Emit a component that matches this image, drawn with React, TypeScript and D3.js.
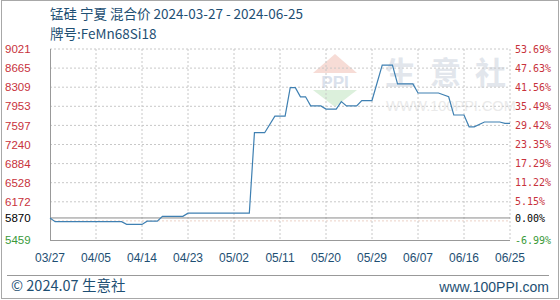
import React from "react";
import * as d3 from "d3";

const titleText = "锰硅 宁夏 混合价 2024-03-27 - 2024-06-25";
const subtitleText = "牌号:FeMn68Si18";
const footerLeft = "© 2024.07 生意社";
const footerRight = "www.100PPI.com";
const watermarkChars = ["生", "意", "社"];

const dates = [
  "2024-03-27", "2024-03-28", "2024-04-10", "2024-04-11", "2024-04-14", "2024-04-15",
  "2024-04-17", "2024-04-18", "2024-04-22", "2024-04-23", "2024-05-05", "2024-05-06",
  "2024-05-08", "2024-05-10", "2024-05-12", "2024-05-13", "2024-05-14", "2024-05-15",
  "2024-05-16", "2024-05-17", "2024-05-19", "2024-05-20", "2024-05-22", "2024-05-23",
  "2024-05-24", "2024-05-26", "2024-05-27", "2024-05-29", "2024-05-31", "2024-06-02",
  "2024-06-03", "2024-06-06", "2024-06-07", "2024-06-11", "2024-06-13", "2024-06-14",
  "2024-06-16", "2024-06-17", "2024-06-18", "2024-06-20", "2024-06-23", "2024-06-24",
  "2024-06-25",
];
const prices = [
  5870, 5800, 5800, 5750, 5750, 5810,
  5810, 5900, 5900, 5960, 5960, 7460,
  7460, 7770, 7770, 8300, 8300, 8130,
  8130, 7960, 7960, 7900, 7900, 8040,
  7960, 7960, 8060, 8060, 8720, 8720,
  8370, 8370, 8200, 8200, 8130, 7790,
  7790, 7570, 7570, 7660, 7660, 7635,
  7635,
];

const xTickDates = [
  "2024-03-27", "2024-04-05", "2024-04-14", "2024-04-23", "2024-05-02", "2024-05-11",
  "2024-05-20", "2024-05-29", "2024-06-07", "2024-06-16", "2024-06-25",
];
const xTickLabels = ["03/27", "04/05", "04/14", "04/23", "05/02", "05/11", "05/20", "05/29", "06/07", "06/16", "06/25"];

const baseValue = 5870;
const yMin = 5459;
const yMax = 9021;
const yGridValues = [5815.2, 6171.4, 6527.6, 6883.8, 7240, 7596.2, 7952.4, 8308.6, 8664.8, 9021];
const yTickValues = [9021, 8664.8, 8308.6, 7952.4, 7596.2, 7240, 6883.8, 6527.6, 6171.4, 5870, 5459];
const yTickLabels = ["9021", "8665", "8309", "7953", "7597", "7240", "6884", "6528", "6172", "5870", "5459"];
const pctLabels = ["53.69%", "47.63%", "41.56%", "35.49%", "29.42%", "23.35%", "17.29%", "11.22%", "5.15%", "0.00%", "-6.99%"];

const W = 560;
const H = 300;
const M = { left: 50, right: 510, top: 49, bottom: 240 };

const RED = "#c8323c";
const GREEN = "#3a9a3a";
const DARK = "#1e4f73";
const GRID = "#c8c8c8";

export default function App() {
  const parse = d3.utcParse("%Y-%m-%d");
  const data = dates.map((d, i) => ({ date: parse(d) as Date, v: prices[i] }));
  const x = d3
    .scaleUtc()
    .domain([parse(xTickDates[0]) as Date, parse(xTickDates[xTickDates.length - 1]) as Date])
    .range([M.left, M.right]);
  const y = d3.scaleLinear().domain([yMin, yMax]).range([M.bottom, M.top]);
  const line = d3
    .line<{ date: Date; v: number }>()
    .x((d) => x(d.date))
    .y((d) => y(d.v));

  const labelColor = (v: number) => (v > baseValue ? RED : v < baseValue ? GREEN : "#000");

  return (
    <svg
      width={W}
      height={H}
      style={{ position: "absolute", left: 0, top: 0, background: "#fff" }}
      fontFamily="'Liberation Sans', Arial, sans-serif"
    >
      <rect x={0} y={0} width={W} height={H} fill="#fff" />
      <rect x={1.5} y={0.5} width={557} height={298} fill="none" stroke="#a8a8a8" />

      {/* titles */}
      <text x={50} y={19} fontSize={13.5} fill={DARK} fontFamily="'Noto Sans CJK SC', sans-serif">
        {titleText}
      </text>
      <text x={50} y={39} fontSize={13.5} fill={DARK} fontFamily="'Noto Sans CJK SC', sans-serif">
        {subtitleText}
      </text>

      {/* watermark */}
      <g>
        <path d="M313,73 L335,54 L357,73 Z" fill="#f7dcd6" />
        <text x={335} y={88} fontSize={17} fontWeight="bold" textAnchor="middle" fill="#dae1ec">
          PPI
        </text>
        <path d="M313,90 L357,90 L335,107 Z" fill="#dcf0dc" />
        {watermarkChars.map((c, i) => (
          <text
            key={"wm" + i}
            x={385 + i * 45}
            y={84}
            fontSize={31}
            fill="#e2e6ec"
            fontWeight="bold"
            fontFamily="'Noto Sans CJK SC', sans-serif"
          >
            {c}
          </text>
        ))}
        <text x={386} y={111} fontSize={14.5} fill="#eaeaea">
          WWW.100PPI.COM
        </text>
      </g>

      {/* horizontal grid */}
      {yGridValues.map((v, i) => (
        <line
          key={"hg" + i}
          x1={M.left}
          x2={M.right}
          y1={y(v)}
          y2={y(v)}
          stroke={i === 0 ? "#ecd2c6" : GRID}
          strokeDasharray="2,2"
        />
      ))}
      {/* vertical grid */}
      {xTickDates.slice(1).map((d, i) => (
        <line
          key={"vg" + i}
          x1={x(parse(d) as Date)}
          x2={x(parse(d) as Date)}
          y1={M.top}
          y2={M.bottom}
          stroke={GRID}
          strokeDasharray="2,2"
        />
      ))}

      {/* base line */}
      <line x1={M.left} x2={M.right} y1={y(baseValue)} y2={y(baseValue)} stroke="#8a8a8a" />
      {/* axes */}
      <line x1={M.left + 0.5} x2={M.left + 0.5} y1={M.top} y2={M.bottom} stroke="#999" />
      <line x1={M.left} x2={M.right} y1={M.bottom + 0.5} y2={M.bottom + 0.5} stroke="#999" />

      {/* data line */}
      <path d={line(data) || ""} fill="none" stroke="#3f80b2" strokeWidth={1.2} />

      {/* left labels */}
      {yTickValues.map((v, i) => (
        <text key={"yl" + i} x={5} y={y(v)} dy="0.36em" fontSize={11.5} fill={labelColor(v)}>
          {yTickLabels[i]}
        </text>
      ))}
      {/* right labels */}
      {yTickValues.map((v, i) => (
        <text
          key={"yr" + i}
          x={515}
          y={y(v)}
          dy="0.36em"
          fontSize={10}
          fill={labelColor(v)}
          fontFamily="'DejaVu Sans Mono', monospace"
        >
          {pctLabels[i]}
        </text>
      ))}
      {/* x labels */}
      {xTickDates.map((d, i) => (
        <text key={"xl" + i} x={x(parse(d) as Date)} y={262} fontSize={12} textAnchor="middle" fill={DARK}>
          {xTickLabels[i]}
        </text>
      ))}

      {/* footer */}
      <line x1={7} x2={549} y1={275.5} y2={275.5} stroke="#999" />
      <text x={11} y={291} fontSize={14.5} fill={DARK} fontFamily="'Noto Sans CJK SC', sans-serif">
        {footerLeft}
      </text>
      <text x={549} y={292} fontSize={14} textAnchor="end" fill={DARK}>
        {footerRight}
      </text>
    </svg>
  );
}
